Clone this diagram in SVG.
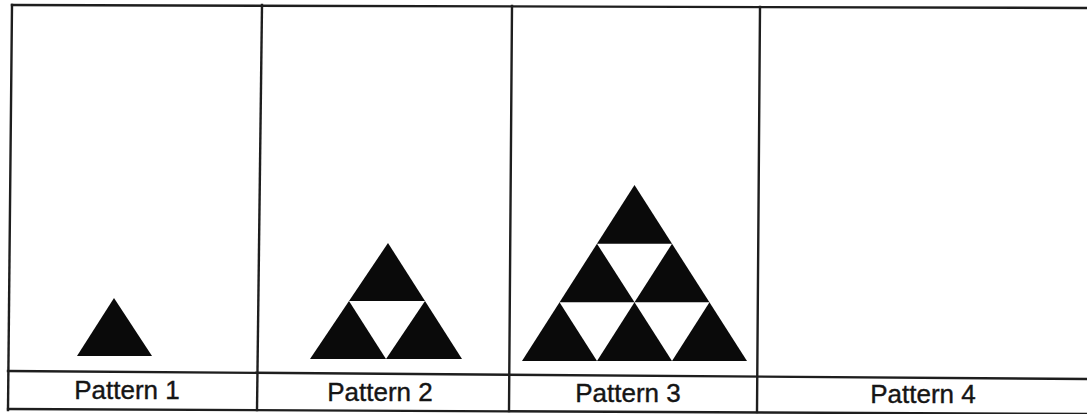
<svg xmlns="http://www.w3.org/2000/svg" width="1087" height="414" viewBox="0 0 1087 414">
  <style>
    .grid line { stroke: #1e1e1e; stroke-width: 2.4; stroke-linecap: square; }
    .blk { fill: #0a0a0a; }
    .wht { fill: #ffffff; }
    .lbl { font-family: "Liberation Sans", Arial, sans-serif; font-size: 26px; fill: #151515; stroke: #151515; stroke-width: 0.4; text-anchor: middle; }
  </style>
  <rect width="1087" height="414" fill="#ffffff"/>
  <g id="grid" class="grid">
    <line x1="12" y1="5" x2="1087" y2="8"/>
    <line x1="12" y1="5" x2="8" y2="410"/>
    <line x1="262" y1="5" x2="257" y2="410"/>
    <line x1="512" y1="6" x2="509" y2="411"/>
    <line x1="760" y1="7" x2="757" y2="412"/>
    <line x1="8" y1="371" x2="1087" y2="379"/>
    <line x1="8" y1="409" x2="1087" y2="414"/>
  </g>
  <g id="pattern1">
    <polygon class="blk" points="114,298 77,356 152,356"/>
    <text class="lbl" x="127" y="399">Pattern 1</text>
  </g>
  <g id="pattern2">
    <polygon class="blk" points="388,243 310,359 462,359"/>
    <polygon class="wht" points="349,301 425,301 386,359"/>
    <text class="lbl" x="380" y="401">Pattern 2</text>
  </g>
  <g id="pattern3">
    <polygon class="blk" points="634.5,185 522,361 747,361"/>
    <polygon class="wht" points="597,243.7 672,243.7 634.5,302.3"/>
    <polygon class="wht" points="559.5,302.3 634.5,302.3 597,361"/>
    <polygon class="wht" points="634.5,302.3 709.5,302.3 672,361"/>
    <text class="lbl" x="628" y="402">Pattern 3</text>
  </g>
  <g id="pattern4">
    <text class="lbl" x="923" y="403">Pattern 4</text>
  </g>
</svg>
